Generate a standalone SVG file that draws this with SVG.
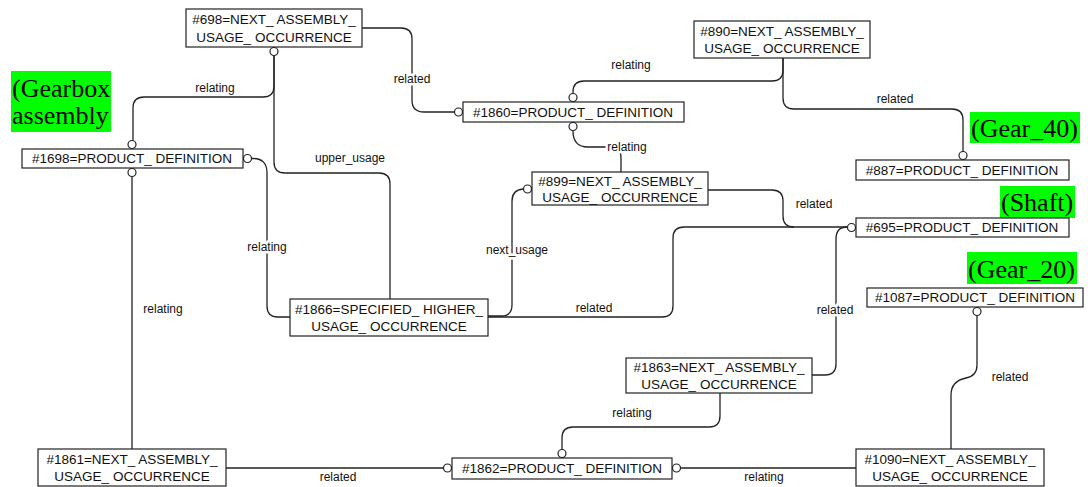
<svg xmlns="http://www.w3.org/2000/svg" width="1088" height="487" viewBox="0 0 1088 487">
<style>
.box{fill:#fff;stroke:#222;stroke-width:1.2}
.nt{font-family:"Liberation Sans",Arial,sans-serif;font-size:13.5px;fill:#111;text-anchor:middle}
.ln{fill:none;stroke:#222;stroke-width:1.3}
.lb{font-family:"Liberation Sans",Arial,sans-serif;font-size:12px;fill:#111;text-anchor:middle}
.halo{paint-order:stroke;stroke:#fff;stroke-width:5px;stroke-linejoin:round}
.cir{fill:#fff;stroke:#222;stroke-width:1.2}
.gr{fill:#00ff00}
.gt{font-family:"Liberation Serif","Times New Roman",serif;font-size:26px;fill:#000}
</style>
<rect width="1088" height="487" fill="#fff"/>
<g id="annotations">
<rect class="gr" x="11" y="71" width="100" height="61"/>
<text class="gt" x="12" y="97">(Gearbox</text>
<text class="gt" x="12" y="124">assembly</text>
<rect class="gr" x="970" y="112" width="110" height="31"/>
<text class="gt" x="971" y="137">(Gear_40)</text>
<rect class="gr" x="1000" y="186" width="75" height="32"/>
<text class="gt" x="1001" y="211">(Shaft)</text>
<rect class="gr" x="967" y="252" width="110" height="32"/>
<text class="gt" x="968" y="278">(Gear_20)</text>
</g>
<g id="connectors">
<path class="ln" d="M274,56 V86 Q274,97 263,97 H144 Q133,97 133,108 V140"/>
<path class="ln" d="M274,56 V162 Q274,173 285,173 H379 Q390,173 390,184 V299"/>
<path class="ln" d="M362,28 H401 Q412,28 412,39 V100 Q412,112 424,112 H454"/>
<path class="ln" d="M252,158.5 Q267,158 267,173 V306 Q267,317 278,317 H290"/>
<path class="ln" d="M132,177 V449"/>
<path class="ln" d="M226,468 H443"/>
<path class="ln" d="M488,316 H501 Q512,316 512,305 V201 Q512,190 523,189"/>
<path class="ln" d="M488,317 H662 Q673,317 673,306 V238 Q673,227 684,227 H847"/>
<path class="ln" d="M708,190 H772 Q783,190 783,201 V216 Q783,227 794,227"/>
<path class="ln" d="M783,58 V70 Q783,81 772,81 H584 Q573,81 573,92 V93"/>
<path class="ln" d="M783,58 V98 Q783,109 794,109 H952 Q963,109 963,120 V151"/>
<path class="ln" d="M573,131 Q573,147 588,147 H611 Q621,147 621,158 V172"/>
<path class="ln" d="M812,375 H825 Q836,375 836,364 V239 Q836,227 847,227"/>
<path class="ln" d="M720,393 V416 Q720,427 709,427 H573 Q562,427 562,438 V449"/>
<path class="ln" d="M681,468 H856"/>
<path class="ln" d="M977,316 V365 Q977,376 966,378 Q951,381 951,395 V449"/>
<circle class="cir" cx="274" cy="51.5" r="4"/>
<circle class="cir" cx="132" cy="144.5" r="4"/>
<circle class="cir" cx="132" cy="172.5" r="4"/>
<circle class="cir" cx="247.5" cy="158.5" r="4"/>
<circle class="cir" cx="447.5" cy="468" r="4"/>
<circle class="cir" cx="562" cy="453.5" r="4"/>
<circle class="cir" cx="676.5" cy="468" r="4"/>
<circle class="cir" cx="977" cy="311.5" r="4"/>
<circle class="cir" cx="851.5" cy="227.5" r="4"/>
<circle class="cir" cx="963" cy="155.5" r="4"/>
<circle class="cir" cx="527.5" cy="189" r="4"/>
<circle class="cir" cx="458.5" cy="112" r="4"/>
<circle class="cir" cx="573" cy="97.5" r="4"/>
<circle class="cir" cx="573" cy="126.5" r="4"/>
<text class="lb" x="215" y="92">relating</text>
<text class="lb" x="350" y="162">upper_usage</text>
<text class="lb halo" x="412" y="83">related</text>
<text class="lb halo" x="267" y="251">relating</text>
<text class="lb" x="163" y="313">relating</text>
<text class="lb" x="338" y="481">related</text>
<text class="lb halo" x="517" y="254">next_usage</text>
<text class="lb" x="594" y="312">related</text>
<text class="lb" x="814" y="208">related</text>
<text class="lb" x="631" y="69">relating</text>
<text class="lb" x="895" y="103">related</text>
<text class="lb halo" x="627" y="151">relating</text>
<text class="lb halo" x="835" y="314">related</text>
<text class="lb" x="632" y="417">relating</text>
<text class="lb" x="764" y="481">relating</text>
<text class="lb" x="1010" y="381">related</text>
</g>
<g id="n698"><rect class="box" x="186" y="9" width="176" height="38"/><text class="nt" x="274" y="24">#698=NEXT_ ASSEMBLY_</text><text class="nt" x="274" y="42">USAGE_ OCCURRENCE</text></g>
<g id="n890"><rect class="box" x="694" y="21" width="176" height="37"/><text class="nt" x="782" y="36">#890=NEXT_ ASSEMBLY_</text><text class="nt" x="782" y="53">USAGE_ OCCURRENCE</text></g>
<g id="n1860"><rect class="box" x="463" y="102" width="221" height="20"/><text class="nt" x="573" y="117">#1860=PRODUCT_ DEFINITION</text></g>
<g id="n887"><rect class="box" x="856" y="160" width="213" height="20"/><text class="nt" x="962" y="175">#887=PRODUCT_ DEFINITION</text></g>
<g id="n1698"><rect class="box" x="22" y="149" width="221" height="19"/><text class="nt" x="132" y="163">#1698=PRODUCT_ DEFINITION</text></g>
<g id="n899"><rect class="box" x="532" y="172" width="176" height="33"/><text class="nt" x="620" y="186">#899=NEXT_ ASSEMBLY_</text><text class="nt" x="620" y="202">USAGE_ OCCURRENCE</text></g>
<g id="n695"><rect class="box" x="856" y="218" width="213" height="19"/><text class="nt" x="962" y="232">#695=PRODUCT_ DEFINITION</text></g>
<g id="n1087"><rect class="box" x="867" y="288" width="216" height="19"/><text class="nt" x="975" y="302">#1087=PRODUCT_ DEFINITION</text></g>
<g id="n1866"><rect class="box" x="290" y="299" width="198" height="37"/><text class="nt" x="389" y="314">#1866=SPECIFIED_ HIGHER_</text><text class="nt" x="389" y="331">USAGE_ OCCURRENCE</text></g>
<g id="n1863"><rect class="box" x="626" y="358" width="186" height="35"/><text class="nt" x="719" y="372">#1863=NEXT_ ASSEMBLY_</text><text class="nt" x="719" y="389">USAGE_ OCCURRENCE</text></g>
<g id="n1861"><rect class="box" x="38" y="449" width="188" height="37"/><text class="nt" x="132" y="464">#1861=NEXT_ ASSEMBLY_</text><text class="nt" x="132" y="481">USAGE_ OCCURRENCE</text></g>
<g id="n1862"><rect class="box" x="452" y="458" width="220" height="21"/><text class="nt" x="562" y="473">#1862=PRODUCT_ DEFINITION</text></g>
<g id="n1090"><rect class="box" x="856" y="449" width="188" height="37"/><text class="nt" x="950" y="464">#1090=NEXT_ ASSEMBLY_</text><text class="nt" x="950" y="481">USAGE_ OCCURRENCE</text></g>
</svg>
